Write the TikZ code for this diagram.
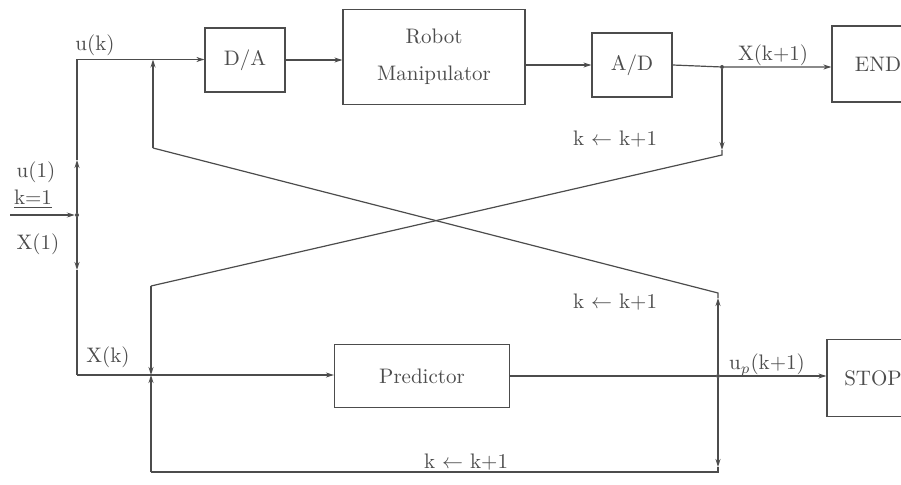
\documentclass[tikz,border=0pt]{standalone}
\usetikzlibrary{arrows.meta}
\definecolor{ink}{gray}{0.3}
% text set at 10pt design size and enlarged
\newcommand{\bigtxt}[1]{\scalebox{2.1}{#1}}
\begin{document}
\begin{tikzpicture}[x=1pt,y=-1pt,
  every node/.style={text=ink, font=\fontsize{10}{12}\selectfont},
  blk/.style={draw=ink, line width=1.2pt, inner sep=0pt, align=center},
  wire/.style={draw=ink, line width=1.2pt},
  arr/.style={wire, -{Stealth[length=8pt,width=5pt]}},
  dot/.style={circle, fill=ink, inner sep=0pt, minimum size=4pt}]
\useasboundingbox (0,0) rectangle (901,484);

% blocks
\node[blk, minimum width=80, minimum height=64] (da) at (245,60) {\bigtxt{D/A}};
\node[blk, minimum width=182, minimum height=95] (robot) at (434,57)
  {\bigtxt{\begin{tabular}{@{}c@{}}Robot\\[6pt]Manipulator\end{tabular}}};
\node[blk, minimum width=80, minimum height=64] (ad) at (632,65) {\bigtxt{A/D}};
\node[blk, minimum width=92, minimum height=76] (end) at (878,64) {\bigtxt{END}};
\node[blk, minimum width=175, minimum height=63] (pred) at (422,376) {\bigtxt{Predictor}};
\node[blk, minimum width=92, minimum height=77] (stop) at (873,378) {\bigtxt{STOP}};

% junction points and corners
\coordinate (ul) at (77,59.5);
\node[dot] (jin) at (77,215) {};
\coordinate (inl) at (10,215);
\coordinate (bl) at (77,375);
\coordinate (fbu) at (153,59.5);
\coordinate (fbuc) at (153,148);
\node[dot] (jx) at (722,67) {};
\coordinate (jxa) at (722,150);
\coordinate (jxc) at (722,155);
\coordinate (dxc) at (151,286);
\coordinate (dxe) at (151,375);
\node[dot] (jp) at (718,376) {};
\coordinate (jpa) at (718,298);
\coordinate (jpc) at (718,293);
\coordinate (jpb) at (718,467);
\coordinate (jpd) at (718,472);
\coordinate (lbl) at (151,472);
\coordinate (upa) at (77,160);
\coordinate (dna) at (77,270);

% forward path
\draw[arr] (inl) -- (jin);
\draw[arr] (jin) -- (upa);
\draw[wire] (upa) -- (ul);
\draw[arr] (ul) -- (ul -| da.west);
\draw[arr] (da.east) -- (da.east -| robot.west);
\draw[arr] (robot.east |- ad.west) -- (ad.west);
\draw[arr] (ad.east) -- (jx) -- (jx -| end.west);

% initial state down to the predictor
\draw[arr] (jin) -- (dna);
\draw[wire] (dna) -- (bl);
\draw[arr] (bl) -- (bl -| pred.west);
\draw[arr] (pred.east) -- (jp) -- (jp -| stop.west);

% measured state fed to the predictor
\draw[arr] (jx) -- (jxa);
\draw[wire] (jxa) -- (jxc) -- (dxc);
\draw[arr] (dxc) -- (dxe);

% predicted input fed back to the converter
\draw[arr] (jp) -- (jpa);
\draw[wire] (jpa) -- (jpc) -- (fbuc);
\draw[arr] (fbuc) -- (fbu);

% predicted input looped back to the predictor
\draw[arr] (jp) -- (jpb);
\draw[wire] (jpb) -- (jpd) -- (lbl);
\draw[arr] (lbl) -- (dxe);

% labels
\node (luk) at (95,45) {\bigtxt{u(k)}};
\node (lu1) at (36,172) {\bigtxt{u(1)}};
\node (lk1) at (33,199) {\bigtxt{\underline{k=1}}};
\node (lx1) at (38,244) {\bigtxt{X(1)}};
\node (lxk) at (108,357) {\bigtxt{X(k)}};
\node (lxk1) at (773,55) {\bigtxt{X(k+1)}};
\node (lupk) at (767,365) {\bigtxt{u$_p$(k+1)}};
\node (lkt) at (615,139) {\bigtxt{k $\leftarrow$ k+1}};
\node (lkm) at (615,302) {\bigtxt{k $\leftarrow$ k+1}};
\node (lkb) at (466,462) {\bigtxt{k $\leftarrow$ k+1}};
\end{tikzpicture}
\end{document}
